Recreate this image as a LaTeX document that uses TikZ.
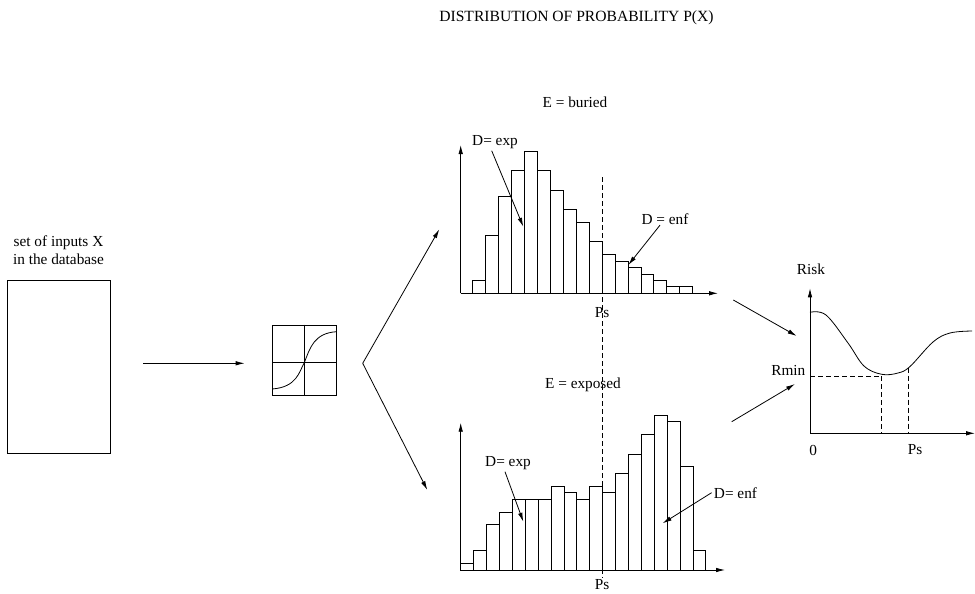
\documentclass[tikz,border=0pt]{standalone}
\usepackage{fontspec}
\setmainfont{Liberation Serif}
\usetikzlibrary{arrows.meta}
\tikzset{
 lbl/.style={inner sep=0pt},
 ptr/.style={-{Latex[length=9pt,width=4.5pt]}},
 guide/.style={dash pattern=on 5pt off 3pt},
}
\begin{document}
\begin{tikzpicture}[x=1pt,y=-1pt,line width=.8pt,font=\fontsize{15.3}{18}\selectfont]
 \useasboundingbox (0,0) rectangle (975,594);
 \node[lbl,font=\fontsize{15.6}{18}\selectfont] (title) at (576.5,18) {DISTRIBUTION OF PROBABILITY P(X)};
 %% database of inputs
 \node[lbl,align=center] (dblabel) at (58.5,250.5) {set of inputs X\\in the database};
 \node[draw,minimum width=103,minimum height=173,inner sep=0] (db) at (58.7,366.5) {};
 \coordinate (feed) at (143.3,363.3);
 %% network box with sigmoid
 \node[draw,minimum width=64.4,minimum height=70,inner sep=0] (net) at (304.5,360) {};
 \draw (net.north-|304.3,0) -- (net.south-|304.3,0);
 \draw (net.west|-0,362.7) -- (net.east|-0,362.7);
 \draw (272.3,389) .. controls (297,387) and (299,372) .. (304.3,362.7)
   .. controls (310,348) and (314,333) .. (336.7,331.7);
 \draw[ptr] (feed) -- ([xshift=-27.3]net.west|-feed);
 %% fork to the two distributions
 \coordinate (fork) at (362.7,363.3);
 \coordinate (upper) at (439.3,229.3);
 \coordinate (lower) at (427.3,490);
 \draw[ptr] (fork) -- (upper);
 \draw[ptr] (fork) -- (lower);
 %% E = buried
 \node[lbl] (buried) at (575,102.5) {E = buried};
 \foreach \h [count=\i from 0] in {2,9,15,19,22,19,16,13,11,8,6,5,4,3,2,1,1}
  {\draw (472.7+\i*12.94,293.3) rectangle ++(12.94,-\h*6.45);}
 \draw[ptr] (460.7,293.3) -- (460.7,145);
 \draw[ptr] (460.7,293.3) -- (718,293.3);
 \node[lbl] (expT) at (495,141.7) {D= exp};
 \node[lbl] (enfT) at (665,219.3) {D = enf};
 \coordinate (expTend) at (523.3,226.7);
 \coordinate (enfTend) at (628.3,265);
 \draw[ptr] ([xshift=-3.3,yshift=-2]expT.south) -- (expTend);
 \draw[ptr] ([xshift=-5]enfT.south) -- (enfTend);
 \node[lbl] (psT) at (602,312.5) {Ps};
 %% E = exposed
 \node[lbl] (exposed) at (583,385) {E = exposed};
 \foreach \h [count=\i from 0] in {1,3,7,9,11,11,11,13,12,11,13,12,15,18,21,24,23,16,3}
  {\draw (460.7+\i*12.9,570) rectangle ++(12.9,-\h*6.45);}
 \draw[ptr] (460.7,570) -- (460.7,422.7);
 \draw[ptr] (460.7,570) -- (725,570);
 \node[lbl] (expB) at (508,462.7) {D= exp};
 \node[lbl] (enfB) at (735.5,492.7) {D= enf};
 \coordinate (expBend) at (523.3,521.7);
 \coordinate (enfBend) at (662.7,523.3);
 \draw[ptr] ([xshift=-3,yshift=-2]expB.south) -- (expBend);
 \draw[ptr] ([xshift=-2]enfB.west) -- (enfBend);
 \node[lbl] (psB) at (602,585) {Ps};
 %% threshold Ps through both
 \draw[guide] (602,177) -- (602,578);
 %% risk curve
 \draw[ptr] (810,433.3) -- (810,288.3);
 \draw[ptr] (810,433.3) -- (975,433.3);
 \node[lbl] (risk) at (811,269.3) {Risk};
 \node[lbl] (rmin) at (788.3,370.7) {Rmin};
 \node[lbl] (zero) at (813.3,450) {0};
 \node[lbl] (psR) at (915,450) {Ps};
 \draw plot[smooth,tension=.6] coordinates {(810,312.3) (826,315) (848,343) (864,366)
   (881.7,374.3) (898,373) (910,366.5) (933,342) (950,333) (972,331)};
 \draw[guide] (810,376) -- (881.7,376) -- (881.7,433.3);
 \draw[guide] (908.3,367.5) -- (908.3,433.3);
 \coordinate (fromT) at (733.3,300);
 \coordinate (fromB) at (731.7,421.7);
 \coordinate (intoT) at (796.7,336);
 \coordinate (intoB) at (795,384);
 \draw[ptr] (fromT) -- (intoT);
 \draw[ptr] (fromB) -- (intoB);
\end{tikzpicture}
\end{document}
